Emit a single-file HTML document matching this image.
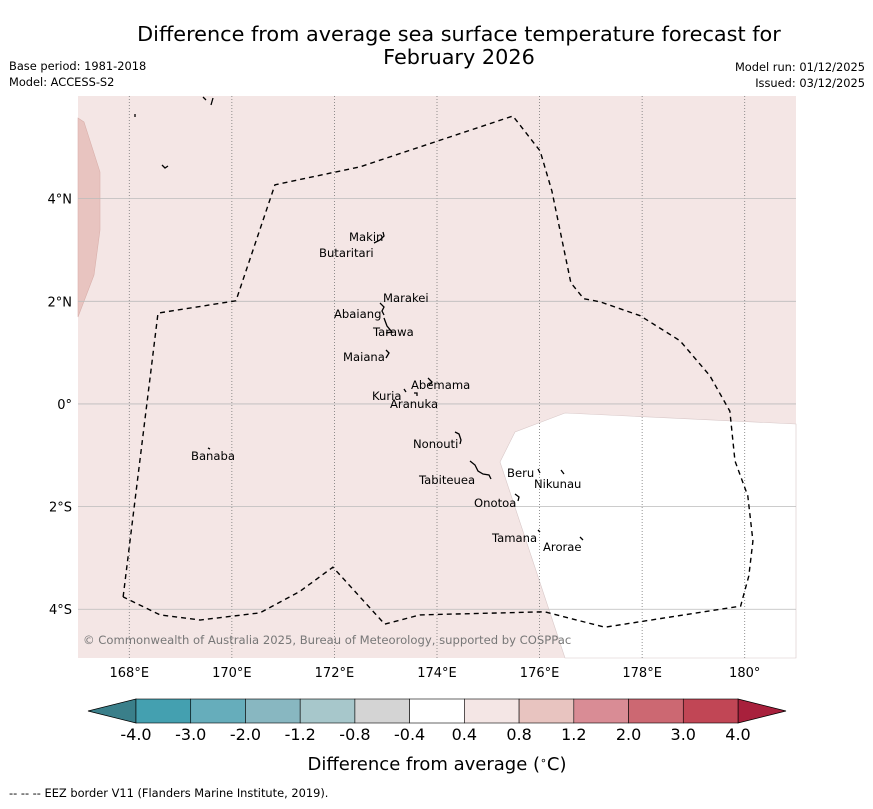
<!DOCTYPE html>
<html><head><meta charset="utf-8"><style>
body{margin:0;background:#fff;font-family:"Liberation Sans","DejaVu Sans",sans-serif}
svg text{font-family:"DejaVu Sans","Liberation Sans",sans-serif}
</style></head><body>
<svg id="c" width="873" height="804" viewBox="0 0 873 804" xmlns="http://www.w3.org/2000/svg">
<text x="459" y="41" font-size="20.8" text-anchor="middle">Difference from average sea surface temperature forecast for</text>
<text x="459" y="64" font-size="20.8" text-anchor="middle">February 2026</text>
<text x="9" y="70" font-size="11.4">Base period: 1981-2018</text>
<text x="9" y="86" font-size="11.4">Model: ACCESS-S2</text>
<text x="865" y="71" font-size="11.4" text-anchor="end">Model run: 01/12/2025</text>
<text x="865" y="87" font-size="11.4" text-anchor="end">Issued: 03/12/2025</text>
<g id="map"></g>
<g id="cb"></g>
<text x="437" y="770" font-size="18" text-anchor="middle">Difference from average (<tspan baseline-shift="super" font-size="11">∘</tspan>C)</text>
<text x="9" y="797" font-size="11.4">--  --  -- EEZ border V11 (Flanders Marine Institute, 2019).</text>
</svg>
<script>
const lonTicks=[168,170,172,174,176,178,180];
const lonLabels=["168°E","170°E","172°E","174°E","176°E","178°E","180°"];
const latTicks=[4,2,0,-2,-4];
const latLabels=["4°N","2°N","0°","2°S","4°S"];
const cbBounds=[-4.0,-3.0,-2.0,-1.2,-0.8,-0.4,0.4,0.8,1.2,2.0,3.0,4.0];
const cbLabels=["-4.0","-3.0","-2.0","-1.2","-0.8","-0.4","0.4","0.8","1.2","2.0","3.0","4.0"];
const cbColors=["#44a0b0","#66adbb","#88b7c1","#a7c7cb","#d4d4d4","#ffffff","#f4e6e5","#e8c4c0","#d98c95","#cc6872","#c14655"];
const eezLon=[167.88,168.56,170.08,170.84,172.50,175.48,176.01,176.24,176.61,176.86,177.18,177.96,178.74,179.32,179.71,179.81,180.06,180.16,180.08,179.92,177.27,176.10,173.67,172.98,171.97,171.33,170.55,169.38,168.60,167.88];
const eezLat=[-3.76,1.77,2.01,4.27,4.62,5.61,4.93,4.15,2.36,2.05,1.99,1.72,1.23,0.55,-0.14,-1.11,-1.79,-2.67,-3.35,-3.94,-4.35,-4.05,-4.11,-4.29,-3.18,-3.65,-4.07,-4.21,-4.11,-3.76];
const NS="http://www.w3.org/2000/svg";
const X0=78,X1=796,Y0=96,Y1=658,LON0=167,LON1=181,LAT0=-4.95,LAT1=6;
const xs=l=>X0+(l-LON0)/(LON1-LON0)*(X1-X0);
const ys=l=>Y1-(l-LAT0)/(LAT1-LAT0)*(Y1-Y0);
function mk(p,t,a){const e=document.createElementNS(NS,t);for(const k in a)e.setAttribute(k,a[k]);p.appendChild(e);return e;}
const map=document.getElementById('map');
let r=mk(map,'rect',{x:X0,y:Y0,width:X1-X0,height:Y1-Y0,fill:'#f4e6e5'});


let p=mk(map,'polygon',{points:"78,118 84,122 100,172 100,230 94,275 78,317",fill:'#e8c4c0',stroke:'#d9b0ab','stroke-width':0.6});


p=mk(map,'polygon',{points:"565,658 500,462 515,432 565,413 796,424 796,658",fill:'#ffffff',stroke:'#d8c8c8','stroke-width':0.6});


lonTicks.forEach((v,i)=>{
 const l=mk(map,'line',{x1:xs(v),x2:xs(v),y1:Y0,y2:Y1,stroke:'#777','stroke-width':0.8,'stroke-dasharray':'1,2'});
 
 
 const t=mk(map,'text',{x:xs(v),y:677,'font-size':13,'text-anchor':'middle'});t.textContent=lonLabels[i];
 
 
});
latTicks.forEach((v,i)=>{
 const l=mk(map,'line',{x1:X0,x2:X1,y1:ys(v),y2:ys(v),stroke:'#bbb','stroke-width':0.8});
 
 
 const t=mk(map,'text',{x:72,y:ys(v)+5,'font-size':13,'text-anchor':'end'});t.textContent=latLabels[i];
 
 
});
let pts=eezLon.map((l,i)=>xs(l)+','+ys(eezLat[i])).join(' ');
p=mk(map,'polyline',{points:pts,fill:'none',stroke:'#000','stroke-width':1.4,'stroke-dasharray':'5,4'});


const isl=[["M383,232 l1,4 l-4,4 l-6,3"],["M203,97 l3,3 M213,98 l-2,7"],["M135,114 l0,3"],["M162,165 l3,3 l3,-2"],["M380,303 l4,4 l-2,4 l2,4"],["M384,318 l3,8 l5,6 l-6,1"],["M386,350 l3,3 l-3,5"],["M428,378 l4,4 l-3,3 M404,389 l2,3 M414,393 l3,0 l0,3"],["M455,432 l4,2 l2,6 l-1,4"],["M470,461 l5,4 l3,6 l5,3 l6,1 l2,4"],["M538,469 l2,4 M561,470 l3,4"],["M515,494 l4,3 l-1,4"],["M538,530 l2,2 M580,537 l3,3"],["M208,448 l2,1"]];
isl.forEach(d=>{const e=mk(map,'path',{d:d[0],fill:'none',stroke:'#000','stroke-width':1.3});
 
 });
const labs=[["Makin",349,241],["Butaritari",319,257],["Marakei",383,302],["Abaiang",334,318],["Tarawa",373,336],["Maiana",343,361],["Abemama",411,389],["Kuria",372,400],["Aranuka",390,408],["Nonouti",413,448],["Banaba",191,460],["Beru",507,477],["Nikunau",534,488],["Tabiteuea",419,484],["Onotoa",474,507],["Tamana",492,542],["Arorae",543,551]];
labs.forEach(a=>{const t=mk(map,'text',{x:a[1],y:a[2],'font-size':11.6});t.textContent=a[0];
 
 });
let t=mk(map,'text',{x:83,y:644,'font-size':11.6,fill:'#777'});t.textContent="© Commonwealth of Australia 2025, Bureau of Meteorology, supported by COSPPac";


// colorbar
const cb=document.getElementById('cb');
const CX0=136,CX1=738,CY=699,CH=24;
const seg=(CX1-CX0)/(cbBounds.length-1);
const cx=i=>CX0+i*seg;
p=mk(cb,'polygon',{points:`${CX0},${CY} 88,${CY+CH/2} ${CX0},${CY+CH}`,fill:'#3a7f8a',stroke:'#000','stroke-width':0.8});


p=mk(cb,'polygon',{points:`${CX1},${CY} 786,${CY+CH/2} ${CX1},${CY+CH}`,fill:'#a8203c',stroke:'#000','stroke-width':0.8});


cbColors.forEach((c,i)=>{const e=mk(cb,'rect',{x:cx(i),y:CY,width:seg,height:CH,fill:c,stroke:'#000','stroke-width':0.6});
 
 });
cbLabels.forEach((s,i)=>{const e=mk(cb,'text',{x:cx(i),y:740,'font-size':16,'text-anchor':'middle'});e.textContent=s;
 
 });
</script>
</body></html>
